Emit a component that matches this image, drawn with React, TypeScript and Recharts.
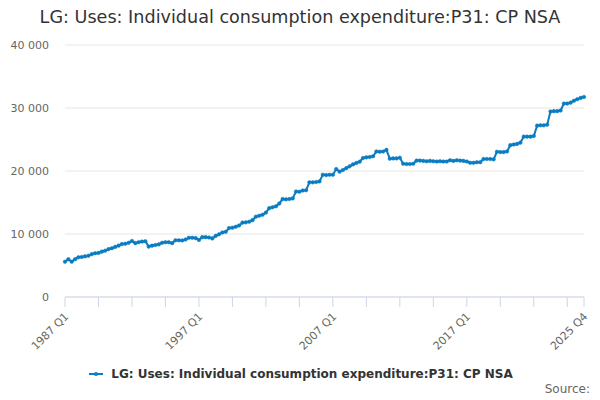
import React from "react";
import { LineChart, Line, XAxis, YAxis, CartesianGrid } from "recharts";

const TITLE = "LG: Uses: Individual consumption expenditure:P31: CP NSA";
const FIRST_YEAR = 1987;

// quarterly values, 1987 Q1 .. 2025 Q4
const values = [
  5600, 6000, 5600, 6000, 6300, 6350, 6450, 6550, 6800, 6950,
  7000, 7200, 7350, 7600, 7750, 7950, 8150, 8400, 8450, 8600,
  8900, 8550, 8700, 8800, 8850, 8000, 8150, 8250, 8350, 8600,
  8700, 8700, 8550, 9000, 9000, 8980, 9120, 9400, 9400, 9350,
  9050, 9500, 9500, 9450, 9300, 9700, 9950, 10250, 10350, 10950,
  11000, 11150, 11350, 11800, 11850, 11950, 12200, 12750, 12900, 13050,
  13400, 14100, 14250, 14400, 14850, 15550, 15500, 15550, 15650, 16750,
  16700, 16900, 16950, 18200, 18200, 18250, 18350, 19400, 19350, 19400,
  19400, 20300, 19900, 20150, 20450, 20750, 21050, 21270, 21480, 22060,
  22170, 22220, 22330, 23100, 23050, 23100, 23350, 21950, 22000, 22000,
  22100, 21150, 21100, 21100, 21150, 21650, 21650, 21600, 21550, 21600,
  21550, 21500, 21550, 21500, 21500, 21700, 21600, 21700, 21650, 21600,
  21500, 21300, 21300, 21400, 21400, 21900, 21900, 21900, 21850, 23050,
  23000, 23000, 23100, 24100, 24200, 24300, 24500, 25450, 25450, 25450,
  25550, 27200, 27250, 27250, 27350, 29450, 29500, 29500, 29600, 30700,
  30700, 30850, 31150, 31400, 31600, 31750,
];

const quarterLabels = values.map(
  (_, i) => `${FIRST_YEAR + Math.floor(i / 4)} Q${(i % 4) + 1}`
);

const yTicks = [0, 10000, 20000, 30000, 40000];
const labelledTicks = ["1987 Q1", "1997 Q1", "2007 Q1", "2017 Q1", "2025 Q4"];
const xTicks = quarterLabels.filter(
  (_, i) => i % 10 === 0 || i === quarterLabels.length - 1
);

const data = quarterLabels.map((label, i) => ({ label, value: values[i] }));

const COLOR = "#0b7cc1";
const FONT = "DejaVu Sans, sans-serif";

const fmt = (v: number) => String(v).replace(/\B(?=(\d{3})+(?!\d))/g, " ");

const XTick = ({ x, y, payload }: any) => {
  if (!labelledTicks.includes(payload.value)) return null;
  return (
    <text
      x={x}
      y={y}
      transform={`rotate(-45 ${x} ${y + 4})`}
      textAnchor="end"
      fontSize={11}
      fill="#666"
      fontFamily={FONT}
      dy={10}
    >
      {payload.value}
    </text>
  );
};

export default function App() {
  return (
    <div
      style={{
        position: "absolute",
        left: 0,
        top: 0,
        width: 600,
        height: 400,
        background: "#fff",
        fontFamily: FONT,
      }}
    >
      <div
        style={{
          position: "absolute",
          top: 7,
          width: 600,
          textAlign: "center",
          fontSize: 17.6,
          color: "#333",
        }}
      >
        {TITLE}
      </div>
      <LineChart
        width={600}
        height={400}
        data={data}
        margin={{ top: 45, right: 16, bottom: 0, left: 0 }}
      >
        <CartesianGrid vertical={false} stroke="#e6e6e6" />
        <XAxis
          dataKey="label"
          ticks={xTicks}
          interval={0}
          tick={<XTick />}
          tickSize={10}
          stroke="#ccd6eb"
          height={103}
        />
        <YAxis
          domain={[0, 40000]}
          ticks={yTicks}
          tickFormatter={fmt}
          axisLine={false}
          tickLine={false}
          width={65}
          tickSize={0}
          tickMargin={16}
          tick={{ fontSize: 11, fill: "#666", fontFamily: FONT }}
        />
        <Line
          dataKey="value"
          stroke={COLOR}
          strokeWidth={2}
          dot={{ r: 1.8, fill: COLOR, stroke: COLOR, strokeWidth: 0.5 }}
          isAnimationActive={false}
        />
      </LineChart>
      <div
        style={{
          position: "absolute",
          top: 367,
          left: 0,
          width: 600,
          display: "flex",
          justifyContent: "center",
          alignItems: "center",
          fontSize: 12,
          fontWeight: "bold",
          color: "#333",
        }}
      >
        <svg width={20} height={12} style={{ marginRight: 4 }}>
          <line x1={2} y1={6} x2={16} y2={6} stroke={COLOR} strokeWidth={2} />
          <circle cx={9} cy={6} r={2} fill={COLOR} />
        </svg>
        {TITLE}
      </div>
      <div
        style={{
          position: "absolute",
          top: 382,
          right: 10,
          fontSize: 12,
          color: "#666",
        }}
      >
        Source:
      </div>
    </div>
  );
}
